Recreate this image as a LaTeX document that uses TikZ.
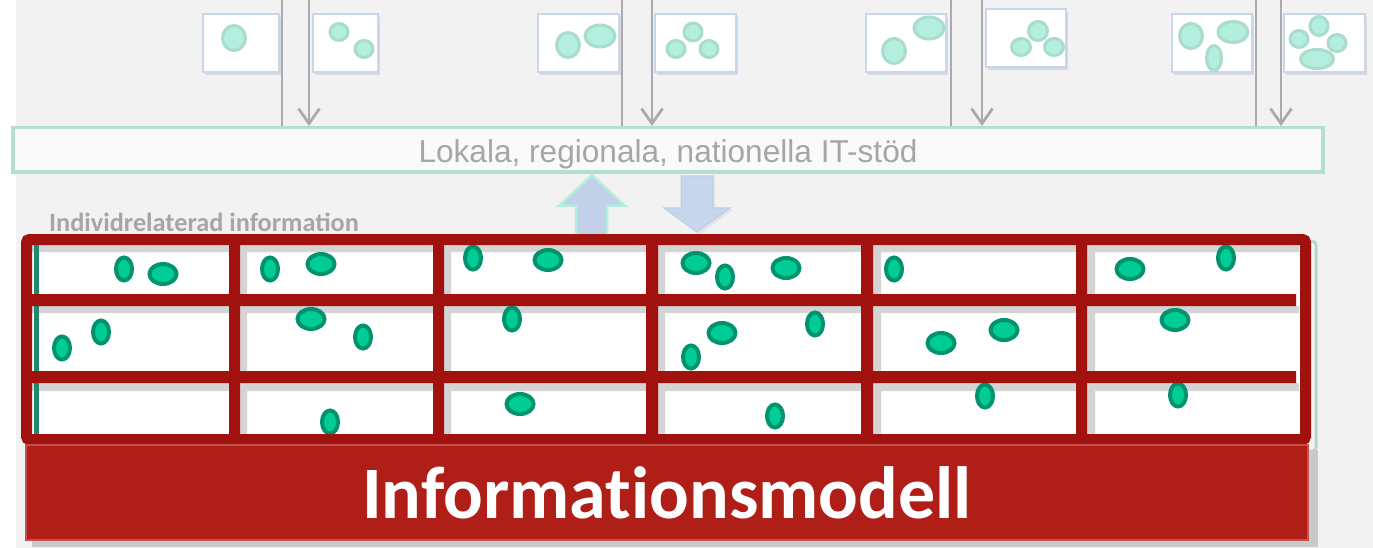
\documentclass[tikz,border=0pt]{standalone}
\usepackage{fontspec}
\newfontfamily\arialf{Liberation Sans}
\newfontfamily\calibrif{Carlito}
\newfontfamily\calibrinolig[Ligatures=NoCommon]{Carlito}
\usetikzlibrary{arrows.meta,shadows}
\definecolor{panel}{HTML}{F2F2F2}
\definecolor{sbborder}{HTML}{C8D6EE}
\definecolor{mintring}{HTML}{A9DCCC}
\definecolor{mintfill}{HTML}{B4EEDF}
\definecolor{feedgray}{HTML}{ABABAB}
\definecolor{itborder}{HTML}{B3DFD1}
\definecolor{itfill}{HTML}{FAFAFA}
\definecolor{txtgray}{HTML}{A6A6A6}
\definecolor{upfill}{HTML}{C2D1E9}
\definecolor{upedge}{HTML}{B4EEDC}
\definecolor{downfill}{HTML}{C6D6ED}
\definecolor{downedge}{HTML}{BDCDE6}
\definecolor{gridred}{HTML}{A1110E}
\definecolor{cellshade}{HTML}{D4D4D4}
\definecolor{gfill}{HTML}{00CC96}
\definecolor{gring}{HTML}{00936E}
\definecolor{tealdark}{HTML}{21896F}
\definecolor{tealpale}{HTML}{B4D6CC}
\definecolor{modelred}{HTML}{B01E18}
\definecolor{modeledge}{HTML}{C4524C}
\definecolor{modelshadow}{HTML}{C9C9C9}
\tikzset{
  smallbox/.style={draw=sbborder, line width=2pt, fill=white, inner sep=0pt,
    minimum width=#1, minimum height=58pt,
    drop shadow={shadow xshift=2pt, shadow yshift=-3pt, opacity=.10, fill=black}},
  topell/.style={draw=mintring, fill=mintfill, line width=3pt},
  feed/.style={draw=feedgray, line width=2.8pt},
  feedarrow/.style={feed, -{Straight Barb[length=15pt,width=21pt]}},
  itboxstyle/.style={draw=itborder, fill=itfill, line width=3.5pt, inner sep=0pt,
    minimum width=1310pt, minimum height=44.5pt},
  uparrowstyle/.style={fill=upfill, draw=upedge, line width=2.5pt, line join=miter},
  downarrowstyle/.style={fill=downfill, draw=downedge, line width=1pt},
  gell/.style={fill=gfill, draw=gring, line width=4pt},
  gridbar/.style={fill=gridred},
  frame/.style={draw=gridred, line width=11pt, rounded corners=3pt},
  modelbar/.style={fill=modelred, draw=modeledge, line width=2pt, inner sep=0pt},
}
\begin{document}
\begin{tikzpicture}[x=1pt,y=-1pt]
\useasboundingbox (0,0) rectangle (1373,548);
\fill[white] (0,0) rectangle (1373,548);
\fill[panel] (16,-2) rectangle (1375,550);

% small boxes
\node[smallbox=76pt] (b1) at (241,43) {};
\node[smallbox=65pt] (b2) at (345.5,43) {};
\node[smallbox=81pt] (b3) at (578.5,43) {};
\node[smallbox=81pt] (b4) at (695.5,43) {};
\node[smallbox=80pt] (b5) at (906,43) {};
\node[smallbox=80pt] (b6) at (1026,38.5) {};
\node[smallbox=80pt] (b7) at (1212,43) {};
\node[smallbox=81pt] (b8) at (1324.5,43) {};

% ellipses in small boxes
\draw[topell] (234,38) ellipse [x radius=11.5pt, y radius=12.5pt];
\draw[topell] (339,32) ellipse [x radius=9pt, y radius=8.5pt];
\draw[topell] (364,49) ellipse [x radius=9pt, y radius=8.5pt];
\draw[topell] (568,45) ellipse [x radius=11.5pt, y radius=12.5pt];
\draw[topell] (600,36) ellipse [x radius=15pt, y radius=11pt];
\draw[topell] (676,49) ellipse [x radius=9pt, y radius=8.5pt];
\draw[topell] (693,32) ellipse [x radius=9pt, y radius=9pt];
\draw[topell] (709,49) ellipse [x radius=9pt, y radius=8.5pt];
\draw[topell] (894,51) ellipse [x radius=11.5pt, y radius=12.5pt];
\draw[topell] (929,28) ellipse [x radius=15pt, y radius=11pt];
\draw[topell] (1038,31) ellipse [x radius=9.5pt, y radius=9.5pt];
\draw[topell] (1021,47) ellipse [x radius=9.5pt, y radius=8.5pt];
\draw[topell] (1054,47) ellipse [x radius=9.5pt, y radius=8.5pt];
\draw[topell] (1191,36) ellipse [x radius=11.5pt, y radius=12.5pt];
\draw[topell] (1233,32) ellipse [x radius=15pt, y radius=10.5pt];
\draw[topell] (1214,58) ellipse [x radius=7.5pt, y radius=12.5pt];
\draw[topell] (1299,39) ellipse [x radius=9pt, y radius=8.5pt];
\draw[topell] (1319,26) ellipse [x radius=9pt, y radius=9.5pt];
\draw[topell] (1337,43) ellipse [x radius=9pt, y radius=8.5pt];
\draw[topell] (1317,59) ellipse [x radius=16.5pt, y radius=9.5pt];

% IT box
\node[itboxstyle] (itbox) at (668,150) {};
\node[anchor=base, inner sep=0pt, text=txtgray, font=\arialf\fontsize{31.6}{36}\selectfont] (ittext) at (668,163) {Lokala, regionala, nationella IT-stöd};

% feed lines
\coordinate (f1) at (282,-4);
\coordinate (f2) at (309,-4);
\coordinate (f3) at (622,-4);
\coordinate (f4) at (652,-4);
\coordinate (f5) at (951,-4);
\coordinate (f6) at (982,-4);
\coordinate (f7) at (1256,-4);
\coordinate (f8) at (1281,-4);
\draw[feed] (f1) -- (f1 |- itbox.north);
\draw[feedarrow] (f2) -- (f2 |- itbox.north);
\draw[feed] (f3) -- (f3 |- itbox.north);
\draw[feedarrow] (f4) -- (f4 |- itbox.north);
\draw[feed] (f5) -- (f5 |- itbox.north);
\draw[feedarrow] (f6) -- (f6 |- itbox.north);
\draw[feed] (f7) -- (f7 |- itbox.north);
\draw[feedarrow] (f8) -- (f8 |- itbox.north);

% big arrows
\draw[uparrowstyle] (576,238) -- (576,206) -- (559,206) -- (592,175) -- (625,206) -- (607,206) -- (607,238) -- cycle;
\fill[black, opacity=.05] (683,178) -- (715,178) -- (715,210) -- (733,210) -- (699,235) -- (666,210) -- (683,210) -- cycle;
\draw[downarrowstyle] (681,176) -- (713,176) -- (713,208) -- (730,208) -- (697,232) -- (664,208) -- (681,208) -- cycle;

% label above grid
\node[anchor=base west, inner sep=0pt, text=txtgray, font=\calibrif\bfseries\fontsize{26.3}{30}\selectfont] (indtext) at (49,231) {Individrelaterad information};

% grid
\draw[tealpale, line width=3pt, rounded corners=4pt] (34,241) rectangle (1316,451);
\fill[white] (21,234) rectangle (1311,444);
\fill[cellshade] (32,245) rectangle (1299,252) (32,306) rectangle (1299,313) (32,383) rectangle (1299,391)
  (240,245) rectangle (247,436) (444,245) rectangle (451,436) (658,245) rectangle (665,436)
  (873,245) rectangle (881,436) (1087,245) rectangle (1095,436);
\draw[tealdark, line width=4.5pt] (36.5,245) -- (36.5,436);

% green ellipses - tall
\foreach \cx/\cy in {124/269,270/269,473/258,894/269,1226/258,62/348,101/332,363/337,512/319,691/357,815/324,330/422,775/416,985/396,1178/395}
  \draw[gell] (\cx,\cy) ellipse [x radius=8pt, y radius=11.5pt];
% green ellipses - round
\foreach \cx/\cy in {163/274,321/264,548/260,696/263,786/268,1130/269,311/319,722/333,941/343,1004/330,1175/320,520/404}
  \draw[gell] (\cx,\cy) ellipse [x radius=13.5pt, y radius=10pt];
\draw[gell] (725,277) ellipse [x radius=8pt, y radius=11.5pt];

% bars
\fill[gridbar] (21,294) rectangle (1296,306) (21,371) rectangle (1296,383);
\fill[gridbar] (229,234) rectangle (240,444) (433,234) rectangle (444,434) (646,234) rectangle (658,444)
  (861,234) rectangle (873,444) (1076,234) rectangle (1087,434);
\draw[frame] (26.5,239.5) rectangle (1305.5,439.5);

% model bar
\fill[modelshadow] (32,450) rectangle (1318,547);
\node[modelbar, minimum width=1282pt, minimum height=95pt] (model) at (667,492.5) {};
\node[anchor=base, inner sep=0pt, text=white, font=\calibrinolig\bfseries\fontsize{74}{80}\selectfont] (modeltext) at (667,518) {Informationsmodell};
\end{tikzpicture}
\end{document}
